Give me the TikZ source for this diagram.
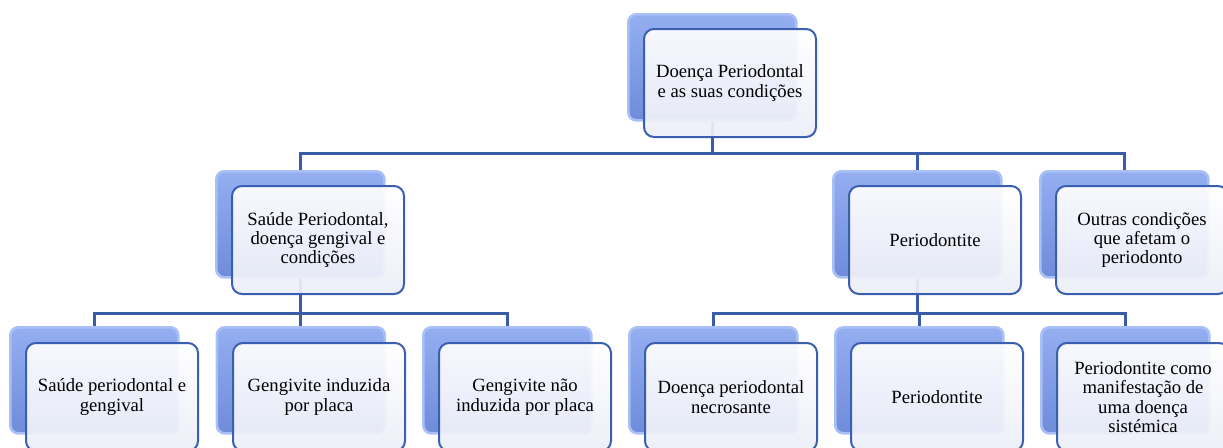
\documentclass[tikz,border=0pt]{standalone}
\usepackage{fontspec}
\setmainfont{Liberation Serif}
\definecolor{conn}{HTML}{3A5CA6}
\definecolor{fborder}{HTML}{3B5FB0}
\definecolor{btop}{HTML}{94AEF1}
\definecolor{bbot}{HTML}{6F8CDA}
\definecolor{bedge}{HTML}{A9C0F6}
\definecolor{fbot}{HTML}{ECEEF8}
\tikzset{
  backbox/.style={anchor=north west, rounded corners=6pt, minimum width=126pt, minimum height=79.5pt,
    top color=btop, bottom color=bbot, draw=bedge, line width=2pt, inner sep=0pt},
  frontbox/.style={anchor=north west, rounded corners=7.5pt, minimum width=129pt, minimum height=81pt,
    top color=white, bottom color=fbot, fill opacity=0.93, text opacity=1, draw=fborder, line width=1.5pt,
    align=center, inner sep=2pt, font=\fontsize{14}{14.6}\selectfont},
  link/.style={draw=conn, line width=2.2pt}
}
\begin{document}
\begin{tikzpicture}[x=0.75pt,y=-0.75pt]
\useasboundingbox (0,0) rectangle (1223,447);
\clip (0,0) rectangle (1223,447);
% back boxes
\node[backbox] (b0) at (627,13) {};
\node[backbox] (b1) at (215,170) {};
\node[backbox] (b2) at (832,170) {};
\node[backbox] (b3) at (1039,170) {};
\node[backbox] (c1) at (9,326) {};
\node[backbox] (c2) at (215.5,326) {};
\node[backbox] (c3) at (422,326) {};
\node[backbox] (c4) at (628,326) {};
\node[backbox] (c5) at (834,326) {};
\node[backbox] (c6) at (1040,326) {};
% connectors
\draw[link] (b0.south) -- ++(0,32) -| (b1.north);
\draw[link] (b0.south) -- ++(0,32) -| (b2.north);
\draw[link] (b0.south) -- ++(0,32) -| (b3.north);
\draw[link] (b1.south) -- ++(0,35) -| (c1.north);
\draw[link] (b1.south) -- ++(0,35) -| (c2.north);
\draw[link] (b1.south) -- ++(0,35) -| (c3.north);
\draw[link] (b2.south) -- ++(0,35) -| (c4.north);
\draw[link] (b2.south) -- ++(0,35) -| (c5.north);
\draw[link] (b2.south) -- ++(0,35) -| (c6.north);
% front boxes
\node[frontbox] (f0) at (643,28) {Doença Periodontal\\e as suas condições};
\node[frontbox] (f1) at (231,185) {Saúde Periodontal,\\doença gengival e\\condições};
\node[frontbox] (f2) at (848,185) {Periodontite};
\node[frontbox] (f3) at (1055,185) {Outras condições\\que afetam o\\periodonto};
\node[frontbox] (g1) at (25,342) {Saúde periodontal e\\gengival};
\node[frontbox] (g2) at (232,342) {Gengivite induzida\\por placa};
\node[frontbox] (g3) at (438,342) {Gengivite não\\induzida por placa};
\node[frontbox] (g4) at (644,342) {Doença periodontal\\necrosante};
\node[frontbox] (g5) at (850,342) {Periodontite};
\node[frontbox] (g6) at (1056,342) {Periodontite como\\manifestação de\\uma doença\\sistémica};
\end{tikzpicture}
\end{document}
